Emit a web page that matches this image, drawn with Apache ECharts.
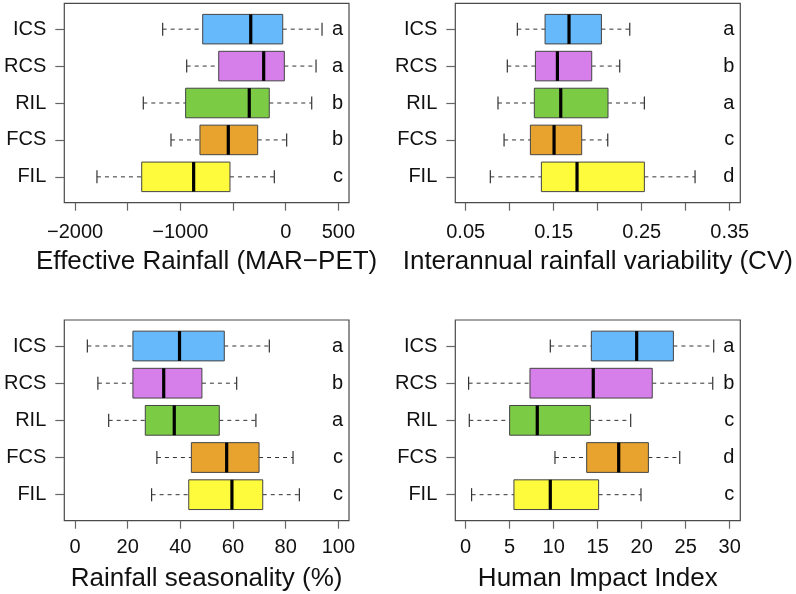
<!DOCTYPE html>
<html>
<head>
<meta charset="utf-8">
<script src="https://cdn.jsdelivr.net/npm/echarts@6/dist/echarts.min.js"></script>
<style>
html,body{margin:0;padding:0;background:#fff;}
#chart{width:796px;height:594px;}
</style>
</head>
<body>
<div id="chart"></div>
<script>
// Categories (top to bottom)
const categories = ['ICS', 'RCS', 'RIL', 'FCS', 'FIL'];
const boxColors = ['#66b9fb', '#d67ee9', '#7ccb45', '#e8a22e', '#fdfb3c'];

// [low whisker, Q1, median, Q3, high whisker]
const rainfallValues = [
  [-1168, -788, -332, -28, 345],
  [-940, -636, -209, -13, 288],
  [-1352, -950, -346, -156, 247],
  [-1089, -814, -545, -266, 9],
  [-1792, -1367, -874, -529, -108]
];
const cvValues = [
  [0.1087, 0.1402, 0.1674, 0.2042, 0.2364],
  [0.0973, 0.1292, 0.1542, 0.1932, 0.2250],
  [0.0867, 0.1280, 0.1580, 0.2117, 0.2530],
  [0.0936, 0.1235, 0.1504, 0.1818, 0.2114],
  [0.0780, 0.1360, 0.1765, 0.2530, 0.3106]
];
const seasonValues = [
  [4.7, 22.0, 39.7, 56.7, 73.8],
  [8.7, 22.0, 33.7, 48.2, 61.4],
  [12.8, 26.7, 37.7, 54.8, 68.7],
  [31.1, 44.2, 57.6, 69.9, 82.8],
  [29.1, 43.2, 59.6, 71.3, 85.2]
];
const humanValues = [
  [9.62, 14.28, 19.43, 23.60, 28.18],
  [0.34, 7.31, 14.50, 21.20, 28.07],
  [0.42, 5.00, 8.14, 14.17, 18.75],
  [10.15, 13.75, 17.39, 20.76, 24.32],
  [0.68, 5.49, 9.62, 15.11, 19.92]
];

// Significance letters per panel
const rainfallLetters = ['a', 'a', 'b', 'b', 'c'];
const cvLetters = ['a', 'b', 'a', 'c', 'd'];
const seasonLetters = ['a', 'b', 'a', 'c', 'c'];
const humanLetters = ['a', 'b', 'c', 'd', 'c'];

// Axis ticks and labels
const rainfallTicks = [-2000, -1500, -1000, -500, 0, 500];
const rainfallTickLabels = [-2000, -1000, 0, 500];
const cvTicks = [0.05, 0.10, 0.15, 0.20, 0.25, 0.30, 0.35];
const cvTickLabels = [0.05, 0.15, 0.25, 0.35];
const seasonTicks = [0, 20, 40, 60, 80, 100];
const humanTicks = [0, 5, 10, 15, 20, 25, 30];

const titles = [
  'Effective Rainfall (MAR\u2212PET)',
  'Interannual rainfall variability (CV)',
  'Rainfall seasonality (%)',
  'Human Impact Index'
];

const FONT = '"Liberation Sans", Arial, Helvetica, sans-serif';

const panels = [
  {values: rainfallValues, letters: rainfallLetters, ticks: rainfallTicks, labels: rainfallTickLabels, min: -2102, max: 601,
   grid: {left: 64.3, top: 3.3, width: 284.7, height: 199.4}, fmt: v => (v < 0 ? '\u2212' + Math.abs(v) : String(v)), lm: 20, ng: 46},
  {values: cvValues, letters: cvLetters, ticks: cvTicks, labels: cvTickLabels, min: 0.0382, max: 0.3620,
   grid: {left: 455.3, top: 3.3, width: 285, height: 199.4}, fmt: v => v.toFixed(2), lm: 20, ng: 46},
  {values: seasonValues, letters: seasonLetters, ticks: seasonTicks, labels: seasonTicks, min: -4.05, max: 104.05,
   grid: {left: 64.3, top: 320, width: 284.7, height: 200.7}, fmt: v => String(v), lm: 17, ng: 45},
  {values: humanValues, letters: humanLetters, ticks: humanTicks, labels: humanTicks, min: -1.17, max: 31.2,
   grid: {left: 455.3, top: 320, width: 285, height: 200.7}, fmt: v => String(v), lm: 17, ng: 45}
];

const catPos = categories.map((c, i) => i + 1);

const grids = [], xAxes = [], yAxes = [], series = [];

panels.forEach((p, k) => {
  grids.push(Object.assign({show: true, borderColor: '#4a4a4a', borderWidth: 1.2, backgroundColor: 'transparent'}, p.grid));
  xAxes.push({
    type: 'value', gridIndex: k, min: p.min, max: p.max,
    axisLine: {show: false, onZero: false},
    splitLine: {show: false},
    axisTick: {show: true, inside: false, length: 8, lineStyle: {color: '#666', width: 1.2}, customValues: p.ticks},
    axisLabel: {show: true, customValues: p.labels, formatter: p.fmt, fontSize: 20, color: '#111', fontFamily: FONT, margin: p.lm},
    name: titles[k], nameLocation: 'middle', nameGap: p.ng,
    nameTextStyle: {fontSize: 26, color: '#111', fontFamily: FONT}
  });
  // left category-like axis
  yAxes.push({
    type: 'value', gridIndex: k, min: 0.3, max: 5.7, inverse: true, position: 'left',
    axisLine: {show: false, onZero: false}, splitLine: {show: false},
    axisTick: {show: true, inside: false, length: 9, lineStyle: {color: '#666', width: 1.2}, customValues: catPos},
    axisLabel: {show: true, customValues: catPos, formatter: v => categories[Math.round(v) - 1] || '',
      fontSize: 20, color: '#111', fontFamily: FONT, margin: 18}
  });
  // right axis holding the letters, drawn inside the plot box
  const letters = p.letters;
  yAxes.push({
    type: 'value', gridIndex: k, min: 0.3, max: 5.7, inverse: true, position: 'right',
    axisLine: {show: false, onZero: false}, splitLine: {show: false}, axisTick: {show: false},
    axisLabel: {show: true, inside: true, customValues: catPos, formatter: v => letters[Math.round(v) - 1] || '',
      fontSize: 20, color: '#111', fontFamily: FONT, margin: 6}
  });
  series.push({
    type: 'custom', xAxisIndex: k, yAxisIndex: 2 * k,
    data: p.values.map((v, i) => [i + 1].concat(v)),
    encode: {x: [1, 2, 3, 4, 5], y: 0},
    renderItem: function (params, api) {
      const yv = api.value(0);
      const lo = api.coord([api.value(1), yv]);
      const q1 = api.coord([api.value(2), yv]);
      const md = api.coord([api.value(3), yv]);
      const q3 = api.coord([api.value(4), yv]);
      const hi = api.coord([api.value(5), yv]);
      const h = api.size([0, 0.8])[1];
      const st = h * 0.22;
      const y = lo[1];
      const idx = params.dataIndex;
      const whisk = {stroke: '#333', lineWidth: 1, lineDash: [4, 4]};
      const cap = {stroke: '#333', lineWidth: 1.2};
      return {
        type: 'group',
        children: [
          {type: 'line', shape: {x1: lo[0], y1: y, x2: q1[0], y2: y}, style: whisk},
          {type: 'line', shape: {x1: q3[0], y1: y, x2: hi[0], y2: y}, style: whisk},
          {type: 'line', shape: {x1: lo[0], y1: y - st, x2: lo[0], y2: y + st}, style: cap},
          {type: 'line', shape: {x1: hi[0], y1: y - st, x2: hi[0], y2: y + st}, style: cap},
          {type: 'rect', shape: {x: q1[0], y: y - h / 2, width: q3[0] - q1[0], height: h},
            style: {fill: boxColors[idx], stroke: '#444', lineWidth: 1}},
          {type: 'line', shape: {x1: md[0], y1: y - h / 2, x2: md[0], y2: y + h / 2},
            style: {stroke: '#000', lineWidth: 3.2}}
        ]
      };
    }
  });
});

const chart = echarts.init(document.getElementById('chart'), null, {renderer: 'canvas'});
chart.setOption({
  animation: false,
  backgroundColor: '#fff',
  grid: grids,
  xAxis: xAxes,
  yAxis: yAxes,
  series: series
});
</script>
</body>
</html>
